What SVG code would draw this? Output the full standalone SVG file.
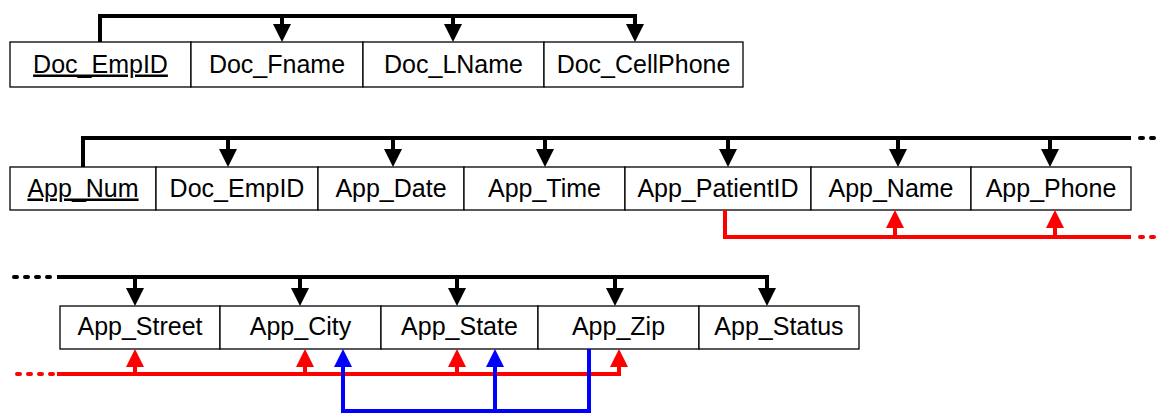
<svg xmlns="http://www.w3.org/2000/svg" width="1158" height="414" viewBox="0 0 1158 414">
<defs>
<style>
.box{fill:#fff;stroke:#000;stroke-width:1.3}
.t{font-family:"Liberation Sans",Arial,sans-serif;font-size:25px;text-anchor:middle;fill:#000}
.u{text-decoration:underline}
.k{fill:none;stroke:#000;stroke-width:4}
.r{fill:none;stroke:#f00;stroke-width:4}
.b{fill:none;stroke:#00f;stroke-width:4}
.kd{fill:none;stroke:#000;stroke-width:4;stroke-dasharray:3 8;stroke-linecap:round}
.rd{fill:none;stroke:#f00;stroke-width:4;stroke-dasharray:3 8;stroke-linecap:round}
</style>
<marker id="ak" markerUnits="userSpaceOnUse" markerWidth="18" markerHeight="18" refX="0" refY="9" orient="auto"><path d="M0,0 L18,9 L0,18 z" fill="#000"/></marker>
<marker id="ar" markerUnits="userSpaceOnUse" markerWidth="18" markerHeight="18" refX="0" refY="9" orient="auto"><path d="M0,0 L18,9 L0,18 z" fill="#f00"/></marker>
<marker id="ab" markerUnits="userSpaceOnUse" markerWidth="18" markerHeight="18" refX="0" refY="9" orient="auto"><path d="M0,0 L18,9 L0,18 z" fill="#00f"/></marker>
</defs>

<g id="doctor">
<g id="n-doc-empid"><rect class="box" x="10" y="42" width="181" height="45"/><text class="t u" x="100.5" y="72.5">Doc_EmpID</text></g>
<g id="n-doc-fname"><rect class="box" x="191" y="42" width="172" height="45"/><text class="t" x="277" y="72.5">Doc_Fname</text></g>
<g id="n-doc-lname"><rect class="box" x="363" y="42" width="181" height="45"/><text class="t" x="453.5" y="72.5">Doc_LName</text></g>
<g id="n-doc-cell"><rect class="box" x="544" y="42" width="199" height="45"/><text class="t" x="643.5" y="72.5">Doc_CellPhone</text></g>
</g>

<g id="appointment1">
<g id="n-app-num"><rect class="box" x="10" y="167" width="146" height="43"/><text class="t u" x="83" y="196.5">App_Num</text></g>
<g id="n-app-docemp"><rect class="box" x="156" y="167" width="162" height="43"/><text class="t" x="237" y="196.5">Doc_EmpID</text></g>
<g id="n-app-date"><rect class="box" x="318" y="167" width="146" height="43"/><text class="t" x="391" y="196.5">App_Date</text></g>
<g id="n-app-time"><rect class="box" x="464" y="167" width="161" height="43"/><text class="t" x="544.5" y="196.5">App_Time</text></g>
<g id="n-app-patient"><rect class="box" x="625" y="167" width="186" height="43"/><text class="t" x="718" y="196.5">App_PatientID</text></g>
<g id="n-app-name"><rect class="box" x="811" y="167" width="160" height="43"/><text class="t" x="891" y="196.5">App_Name</text></g>
<g id="n-app-phone"><rect class="box" x="971" y="167" width="160" height="43"/><text class="t" x="1051" y="196.5">App_Phone</text></g>
</g>

<g id="appointment2">
<g id="n-app-street"><rect class="box" x="60" y="306" width="160" height="43"/><text class="t" x="140" y="335">App_Street</text></g>
<g id="n-app-city"><rect class="box" x="220" y="306" width="161" height="43"/><text class="t" x="300.5" y="335">App_City</text></g>
<g id="n-app-state"><rect class="box" x="381" y="306" width="157" height="43"/><text class="t" x="459.5" y="335">App_State</text></g>
<g id="n-app-zip"><rect class="box" x="538" y="306" width="161" height="43"/><text class="t" x="618.5" y="335">App_Zip</text></g>
<g id="n-app-status"><rect class="box" x="699" y="306" width="160" height="43"/><text class="t" x="779" y="335">App_Status</text></g>
</g>

<g id="connectors">
<!-- row 1 -->
<path class="k" d="M100,42 V16 H635 V24" marker-end="url(#ak)"/>
<path class="k" d="M282,16 V24" marker-end="url(#ak)"/>
<path class="k" d="M453,16 V24" marker-end="url(#ak)"/>
<!-- row 2 black -->
<path class="k" d="M83,167 V138 H1131"/>
<path class="kd" d="M1140,138 H1160"/>
<path class="k" d="M228,138 V149" marker-end="url(#ak)"/>
<path class="k" d="M393,138 V149" marker-end="url(#ak)"/>
<path class="k" d="M545,138 V149" marker-end="url(#ak)"/>
<path class="k" d="M728,138 V149" marker-end="url(#ak)"/>
<path class="k" d="M898,138 V149" marker-end="url(#ak)"/>
<path class="k" d="M1050,138 V149" marker-end="url(#ak)"/>
<!-- row 2 red -->
<path class="r" d="M725,210 V237 H1131"/>
<path class="rd" d="M1140,237 H1160"/>
<path class="r" d="M895,237 V228" marker-end="url(#ar)"/>
<path class="r" d="M1055,237 V228" marker-end="url(#ar)"/>
<!-- row 3 black -->
<path class="kd" d="M14,277 H55"/>
<path class="k" d="M57,277 H767 V288" marker-end="url(#ak)"/>
<path class="k" d="M135,277 V288" marker-end="url(#ak)"/>
<path class="k" d="M300,277 V288" marker-end="url(#ak)"/>
<path class="k" d="M457,277 V288" marker-end="url(#ak)"/>
<path class="k" d="M615,277 V288" marker-end="url(#ak)"/>
<!-- row 3 red -->
<path class="rd" d="M17,374 H55"/>
<path class="r" d="M57,374 H619 V367" marker-end="url(#ar)"/>
<path class="r" d="M135,374 V367" marker-end="url(#ar)"/>
<path class="r" d="M305,374 V367" marker-end="url(#ar)"/>
<path class="r" d="M457,374 V367" marker-end="url(#ar)"/>
<!-- blue -->
<path class="b" d="M589,349 V411 H343 V367" marker-end="url(#ab)"/>
<path class="b" d="M495,411 V367" marker-end="url(#ab)"/>
</g>
</svg>
